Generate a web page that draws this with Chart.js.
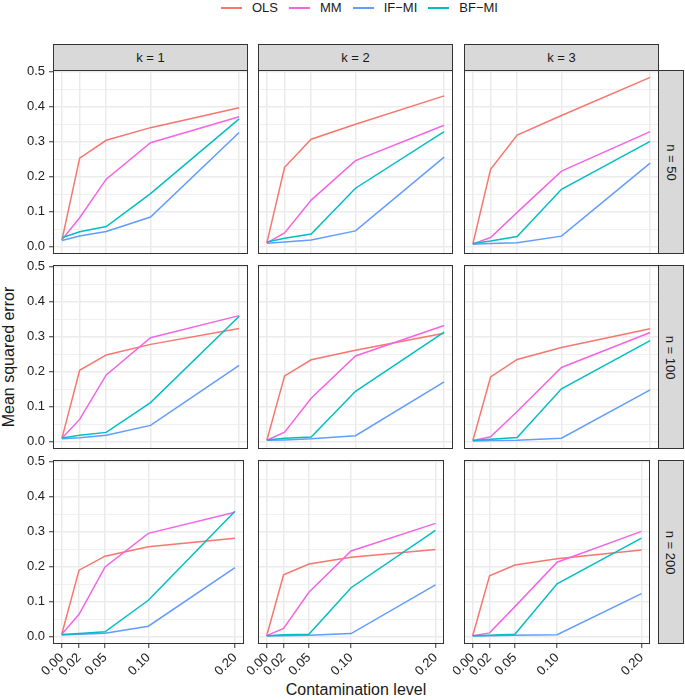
<!DOCTYPE html>
<html lang="en">
<head>
  <meta charset="UTF-8" />
  <title>Mean squared error by contamination level</title>
  <script src="https://cdn.jsdelivr.net/npm/chart.js"></script>
  <style>
    body {
      margin: 0;
      width: 685px;
      height: 700px;
      position: relative;
      background: #fff;
      font-family: 'Liberation Sans', Arial, sans-serif;
      color: #1a1a1a;
      overflow: hidden;
    }
    .panel { position: absolute; line-height: 0; }
    .panel canvas { display: block; }
    .strip {
      position: absolute;
      background: #d9d9d9;
      border: 1px solid #333;
      box-sizing: border-box;
      font-size: 13px;
      display: flex;
      align-items: center;
      justify-content: center;
    }
    .strip.right span { transform: rotate(90deg); white-space: nowrap; }
    .legend {
      position: absolute;
      left: 221px;
      top: 0;
      height: 15px;
      display: flex;
      align-items: center;
      font-size: 13px;
    }
    .legend .key { display: block; flex: none; width: 21px; height: 2px; margin-right: 10px; }
    .legend .lab { display: block; flex: none; margin-right: 11px; }
    .ytitle {
      position: absolute;
      left: 9px;
      top: 357px;
      font-size: 16px;
      white-space: nowrap;
      transform: translate(-50%, -50%) rotate(-90deg);
    }
    .xtitle {
      position: absolute;
      left: 356px;
      top: 690px;
      font-size: 16px;
      white-space: nowrap;
      transform: translate(-50%, -50%);
    }
  </style>
</head>
<body>

<div class="legend" id="legend"></div>
<div class="ytitle">Mean squared error</div>
<div class="xtitle">Contamination level</div>

<script>
  // contamination levels on the x axis
  const contamination = [0, 0.02, 0.05, 0.10, 0.20];
  const kLevels = [1, 2, 3];
  const nLevels = [50, 100, 200];
  const methods = ['OLS', 'MM', 'IF\u2212MI', 'BF\u2212MI'];
  const yTicks = [0, 0.05, 0.1, 0.15, 0.2, 0.25, 0.3, 0.35, 0.4, 0.45, 0.5];

  // MSE values, indexed [n row][k column]
  const mseOLS = [
    [[0.019, 0.253, 0.304, 0.340, 0.397], [0.011, 0.227, 0.307, 0.350, 0.431], [0.008, 0.221, 0.319, 0.375, 0.484]],
    [[0.010, 0.204, 0.248, 0.278, 0.323], [0.004, 0.188, 0.234, 0.261, 0.310], [0.003, 0.185, 0.235, 0.269, 0.323]],
    [[0.007, 0.190, 0.230, 0.257, 0.281], [0.003, 0.177, 0.208, 0.227, 0.249], [0.003, 0.174, 0.205, 0.223, 0.248]]
  ];
  const mseMM = [
    [[0.020, 0.083, 0.193, 0.297, 0.371], [0.011, 0.039, 0.133, 0.246, 0.347], [0.008, 0.026, 0.098, 0.216, 0.329]],
    [[0.010, 0.064, 0.191, 0.297, 0.360], [0.004, 0.027, 0.124, 0.245, 0.332], [0.003, 0.014, 0.086, 0.212, 0.312]],
    [[0.007, 0.064, 0.199, 0.295, 0.355], [0.003, 0.024, 0.127, 0.245, 0.324], [0.003, 0.011, 0.086, 0.213, 0.301]]
  ];
  const mseIFMI = [
    [[0.018, 0.031, 0.044, 0.085, 0.326], [0.010, 0.013, 0.019, 0.045, 0.256], [0.007, 0.009, 0.011, 0.030, 0.239]],
    [[0.009, 0.012, 0.019, 0.047, 0.218], [0.004, 0.005, 0.008, 0.017, 0.171], [0.002, 0.003, 0.004, 0.010, 0.148]],
    [[0.005, 0.007, 0.010, 0.030, 0.197], [0.002, 0.003, 0.004, 0.009, 0.148], [0.002, 0.003, 0.004, 0.006, 0.123]]
  ];
  const mseBFMI = [
    [[0.026, 0.043, 0.058, 0.152, 0.365], [0.013, 0.024, 0.036, 0.167, 0.329], [0.009, 0.016, 0.029, 0.164, 0.301]],
    [[0.011, 0.019, 0.027, 0.112, 0.358], [0.005, 0.010, 0.013, 0.144, 0.313], [0.003, 0.007, 0.012, 0.151, 0.289]],
    [[0.006, 0.009, 0.014, 0.104, 0.358], [0.003, 0.006, 0.007, 0.140, 0.304], [0.003, 0.004, 0.007, 0.151, 0.282]]
  ];
  const series = [mseOLS, mseMM, mseIFMI, mseBFMI];
  const colors = ['#F8766D', '#F564E3', '#619CFF', '#00BFC4'];

  const colLeft = [53, 258, 464];
  const rowTop = [70, 265, 460];
  const panelW = 195, panelH = 184;

  Chart.defaults.font.family = "'Liberation Sans', Arial, sans-serif";
  Chart.defaults.font.size = 13;
  Chart.defaults.color = '#222';

  // legend
  const legend = document.getElementById('legend');
  methods.forEach((m, i) => {
    const key = document.createElement('div');
    key.className = 'key';
    key.style.background = colors[i];
    const lab = document.createElement('div');
    lab.className = 'lab';
    lab.textContent = m;
    legend.appendChild(key);
    legend.appendChild(lab);
  });

  const panelBorder = {
    id: 'panelBorder',
    afterDraw(chart) {
      const a = chart.chartArea, ctx = chart.ctx;
      ctx.save();
      ctx.strokeStyle = '#333';
      ctx.lineWidth = 1;
      ctx.strokeRect(Math.round(a.left) + 0.5, Math.round(a.top) + 0.5,
                     Math.round(a.right - a.left) - 1, Math.round(a.bottom - a.top) - 1);
      ctx.restore();
    }
  };

  function isMajor(v) {
    return Math.abs(v * 10 - Math.round(v * 10)) < 1e-6;
  }

  function makeStrip(cls, left, top, w, h, text) {
    const d = document.createElement('div');
    d.className = 'strip ' + cls;
    d.style.left = left + 'px';
    d.style.top = top + 'px';
    d.style.width = w + 'px';
    d.style.height = h + 'px';
    const s = document.createElement('span');
    s.textContent = text;
    d.appendChild(s);
    document.body.appendChild(d);
  }

  kLevels.forEach((k, c) => makeStrip('top', colLeft[c], 44, panelW, 27, 'k = ' + k));
  nLevels.forEach((n, r) => makeStrip('right', 658, rowTop[r], 26, panelH, 'n = ' + n));

  function panelConfig(r, c) {
    const leftAxis = c === 0, bottomAxis = r === 2;
    const datasets = methods.map((m, i) => ({
      label: m,
      data: contamination.map((x, j) => ({ x: x, y: series[i][r][c][j] })),
      borderColor: colors[i],
      borderWidth: 1.5,
      pointRadius: 0,
      tension: 0,
      fill: false,
      order: methods.length - i
    }));
    return {
      type: 'line',
      data: { datasets },
      options: {
        responsive: false,
        maintainAspectRatio: false,
        animation: false,
        layout: { padding: 0, autoPadding: false },
        plugins: { legend: { display: false }, tooltip: { enabled: false } },
        scales: {
          x: {
            type: 'linear',
            min: -0.01,
            max: 0.21,
            afterBuildTicks: s => { s.ticks = contamination.map(v => ({ value: v })); },
            border: { display: false },
            grid: {
              color: '#EBEBEB',
              lineWidth: 1.5,
              drawTicks: bottomAxis,
              tickLength: 4,
              tickColor: '#333',
              tickWidth: 1
            },
            ticks: {
              display: bottomAxis,
              autoSkip: false,
              minRotation: 45,
              maxRotation: 45,
              padding: 2,
              color: '#222',
              callback: v => v.toFixed(2)
            }
          },
          y: {
            min: -0.021,
            max: 0.505,
            afterBuildTicks: s => { s.ticks = yTicks.map(v => ({ value: v })); },
            border: { display: false },
            grid: {
              color: '#EBEBEB',
              lineWidth: ctx => isMajor(ctx.tick.value) ? 1.5 : 0.75,
              drawTicks: leftAxis,
              tickLength: 4,
              tickColor: ctx => isMajor(ctx.tick.value) ? '#333' : 'rgba(0,0,0,0)',
              tickWidth: 1
            },
            ticks: {
              display: leftAxis,
              autoSkip: false,
              padding: 4,
              color: '#222',
              callback: v => isMajor(v) ? v.toFixed(1) : ''
            }
          }
        }
      },
      plugins: [panelBorder]
    };
  }

  for (let r = 0; r < 3; r++) {
    for (let c = 0; c < 3; c++) {
      const wrap = document.createElement('div');
      wrap.className = 'panel';
      document.body.appendChild(wrap);

      // first pass: find how much room the axes take around the plot area
      let canvas = document.createElement('canvas');
      canvas.width = panelW + 120;
      canvas.height = panelH + 120;
      wrap.appendChild(canvas);
      let chart = new Chart(canvas, panelConfig(r, c));
      const a = chart.chartArea;
      const mL = a.left, mT = a.top;
      const mR = canvas.width - a.right, mB = canvas.height - a.bottom;
      chart.destroy();
      wrap.removeChild(canvas);

      // second pass: canvas sized so the plot area is exactly one panel
      canvas = document.createElement('canvas');
      canvas.width = Math.round(panelW + mL + mR);
      canvas.height = Math.round(panelH + mT + mB);
      wrap.appendChild(canvas);
      chart = new Chart(canvas, panelConfig(r, c));
      const b = chart.chartArea;
      wrap.style.left = (colLeft[c] - b.left) + 'px';
      wrap.style.top = (rowTop[r] - b.top) + 'px';
    }
  }
</script>

</body>
</html>
